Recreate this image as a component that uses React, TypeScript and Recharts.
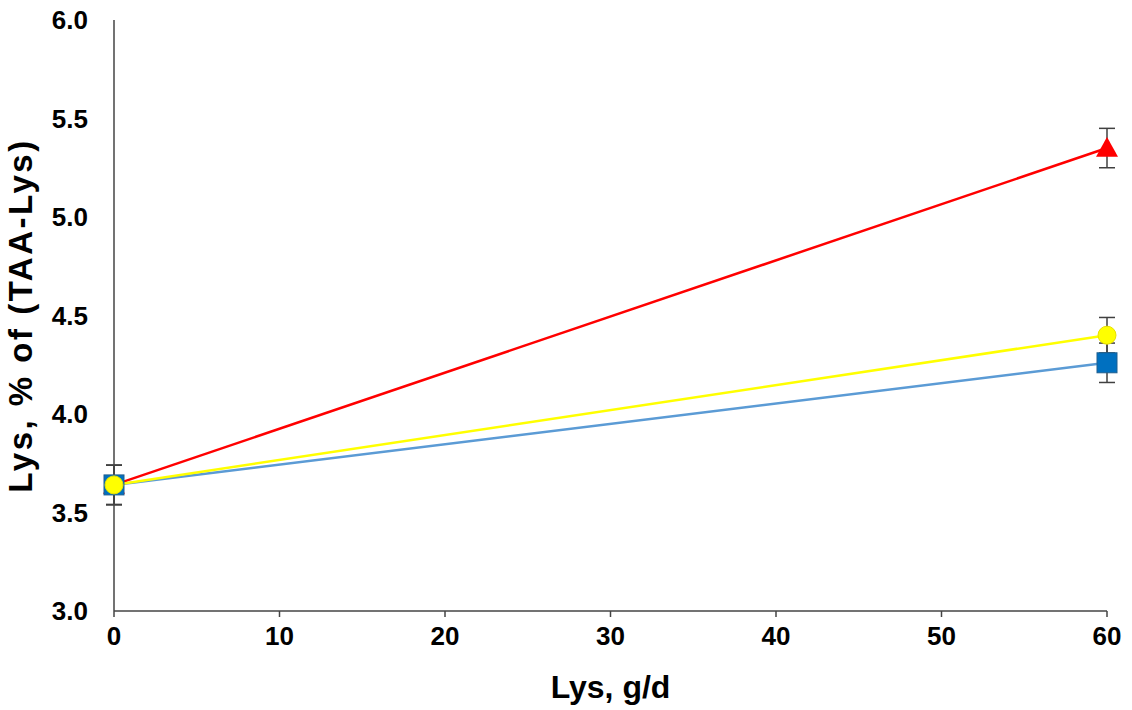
import React from 'react';
import { LineChart, Line, XAxis, YAxis, ErrorBar } from 'recharts';

const lysDose = [0, 60];
const triangleSeries = [3.64, 5.35];
const triangleErr = [0.1, 0.1];
const squareSeries = [3.64, 4.26];
const squareErr = [0.1, 0.1];
const circleSeries = [3.64, 4.4];
const circleErr = [0.1, 0.09];
const yTicks = [3.0, 3.5, 4.0, 4.5, 5.0, 5.5, 6.0];
const xTicks = [0, 10, 20, 30, 40, 50, 60];

const data = lysDose.map((x, i) => ({
  x,
  tri: triangleSeries[i],
  triErr: triangleErr[i],
  sq: squareSeries[i],
  sqErr: squareErr[i],
  circ: circleSeries[i],
  circErr: circleErr[i],
}));

const Triangle = (props: any) => {
  const { cx, cy } = props;
  if (cx == null || cy == null) return null;
  const s = 11;
  return <polygon points={`${cx},${cy - s} ${cx + s},${cy + s * 0.8} ${cx - s},${cy + s * 0.8}`} fill="#FF0000" />;
};

const Square = (props: any) => {
  const { cx, cy } = props;
  if (cx == null || cy == null) return null;
  return <rect x={cx - 10} y={cy - 10} width={20} height={20} fill="#0070C0" stroke="#1F5F8F" strokeWidth={1} />;
};

const Circle = (props: any) => {
  const { cx, cy } = props;
  if (cx == null || cy == null) return null;
  return <circle cx={cx} cy={cy} r={9} fill="#FFFF00" stroke="#E8E000" strokeWidth={1} />;
};

const font = 'Liberation Sans, Arial, sans-serif';
const tickStyle = { fill: '#000', fontSize: 26, fontWeight: 700, fontFamily: font };
const labelStyle = { fill: '#000', fontSize: 32, fontWeight: 700, fontFamily: font };

export default function App() {
  return (
    <div style={{ position: 'absolute', left: 0, top: 0, width: 1132, height: 710, background: '#fff' }}>
      <LineChart width={1132} height={710} data={data} margin={{ top: 20, right: 25, bottom: 69, left: 34 }}>
        <XAxis
          dataKey="x"
          type="number"
          domain={[0, 60]}
          ticks={xTicks}
          height={30}
          stroke="#444"
          strokeWidth={1.5}
          tickSize={6}
          tick={{ ...tickStyle, dy: 8 }}
          label={{ value: 'Lys, g/d', position: 'insideBottom', offset: -57, style: labelStyle }}
        />
        <YAxis
          type="number"
          domain={[3, 6]}
          ticks={yTicks}
          width={80}
          stroke="#444"
          strokeWidth={1.5}
          tickLine={false}
          tickFormatter={(v: number) => v.toFixed(1)}
          tick={{ ...tickStyle, dx: -18 }}
          label={{ value: 'Lys, % of (TAA-Lys)', angle: -90, position: 'insideLeft', offset: -14, style: { ...labelStyle, fontSize: 33, letterSpacing: 2.5, textAnchor: 'middle' } }}
        />
        <Line dataKey="tri" stroke="#FF0000" strokeWidth={2.5} dot={<Triangle />} activeDot={false} isAnimationActive={false}>
          <ErrorBar dataKey="triErr" width={8} stroke="#404040" strokeWidth={1.5} direction="y" />
        </Line>
        <Line dataKey="sq" stroke="#5B9BD5" strokeWidth={2.5} dot={<Square />} activeDot={false} isAnimationActive={false}>
          <ErrorBar dataKey="sqErr" width={8} stroke="#404040" strokeWidth={1.5} direction="y" />
        </Line>
        <Line dataKey="circ" stroke="#FFFF00" strokeWidth={2.5} dot={<Circle />} activeDot={false} isAnimationActive={false}>
          <ErrorBar dataKey="circErr" width={8} stroke="#404040" strokeWidth={1.5} direction="y" />
        </Line>
      </LineChart>
    </div>
  );
}
